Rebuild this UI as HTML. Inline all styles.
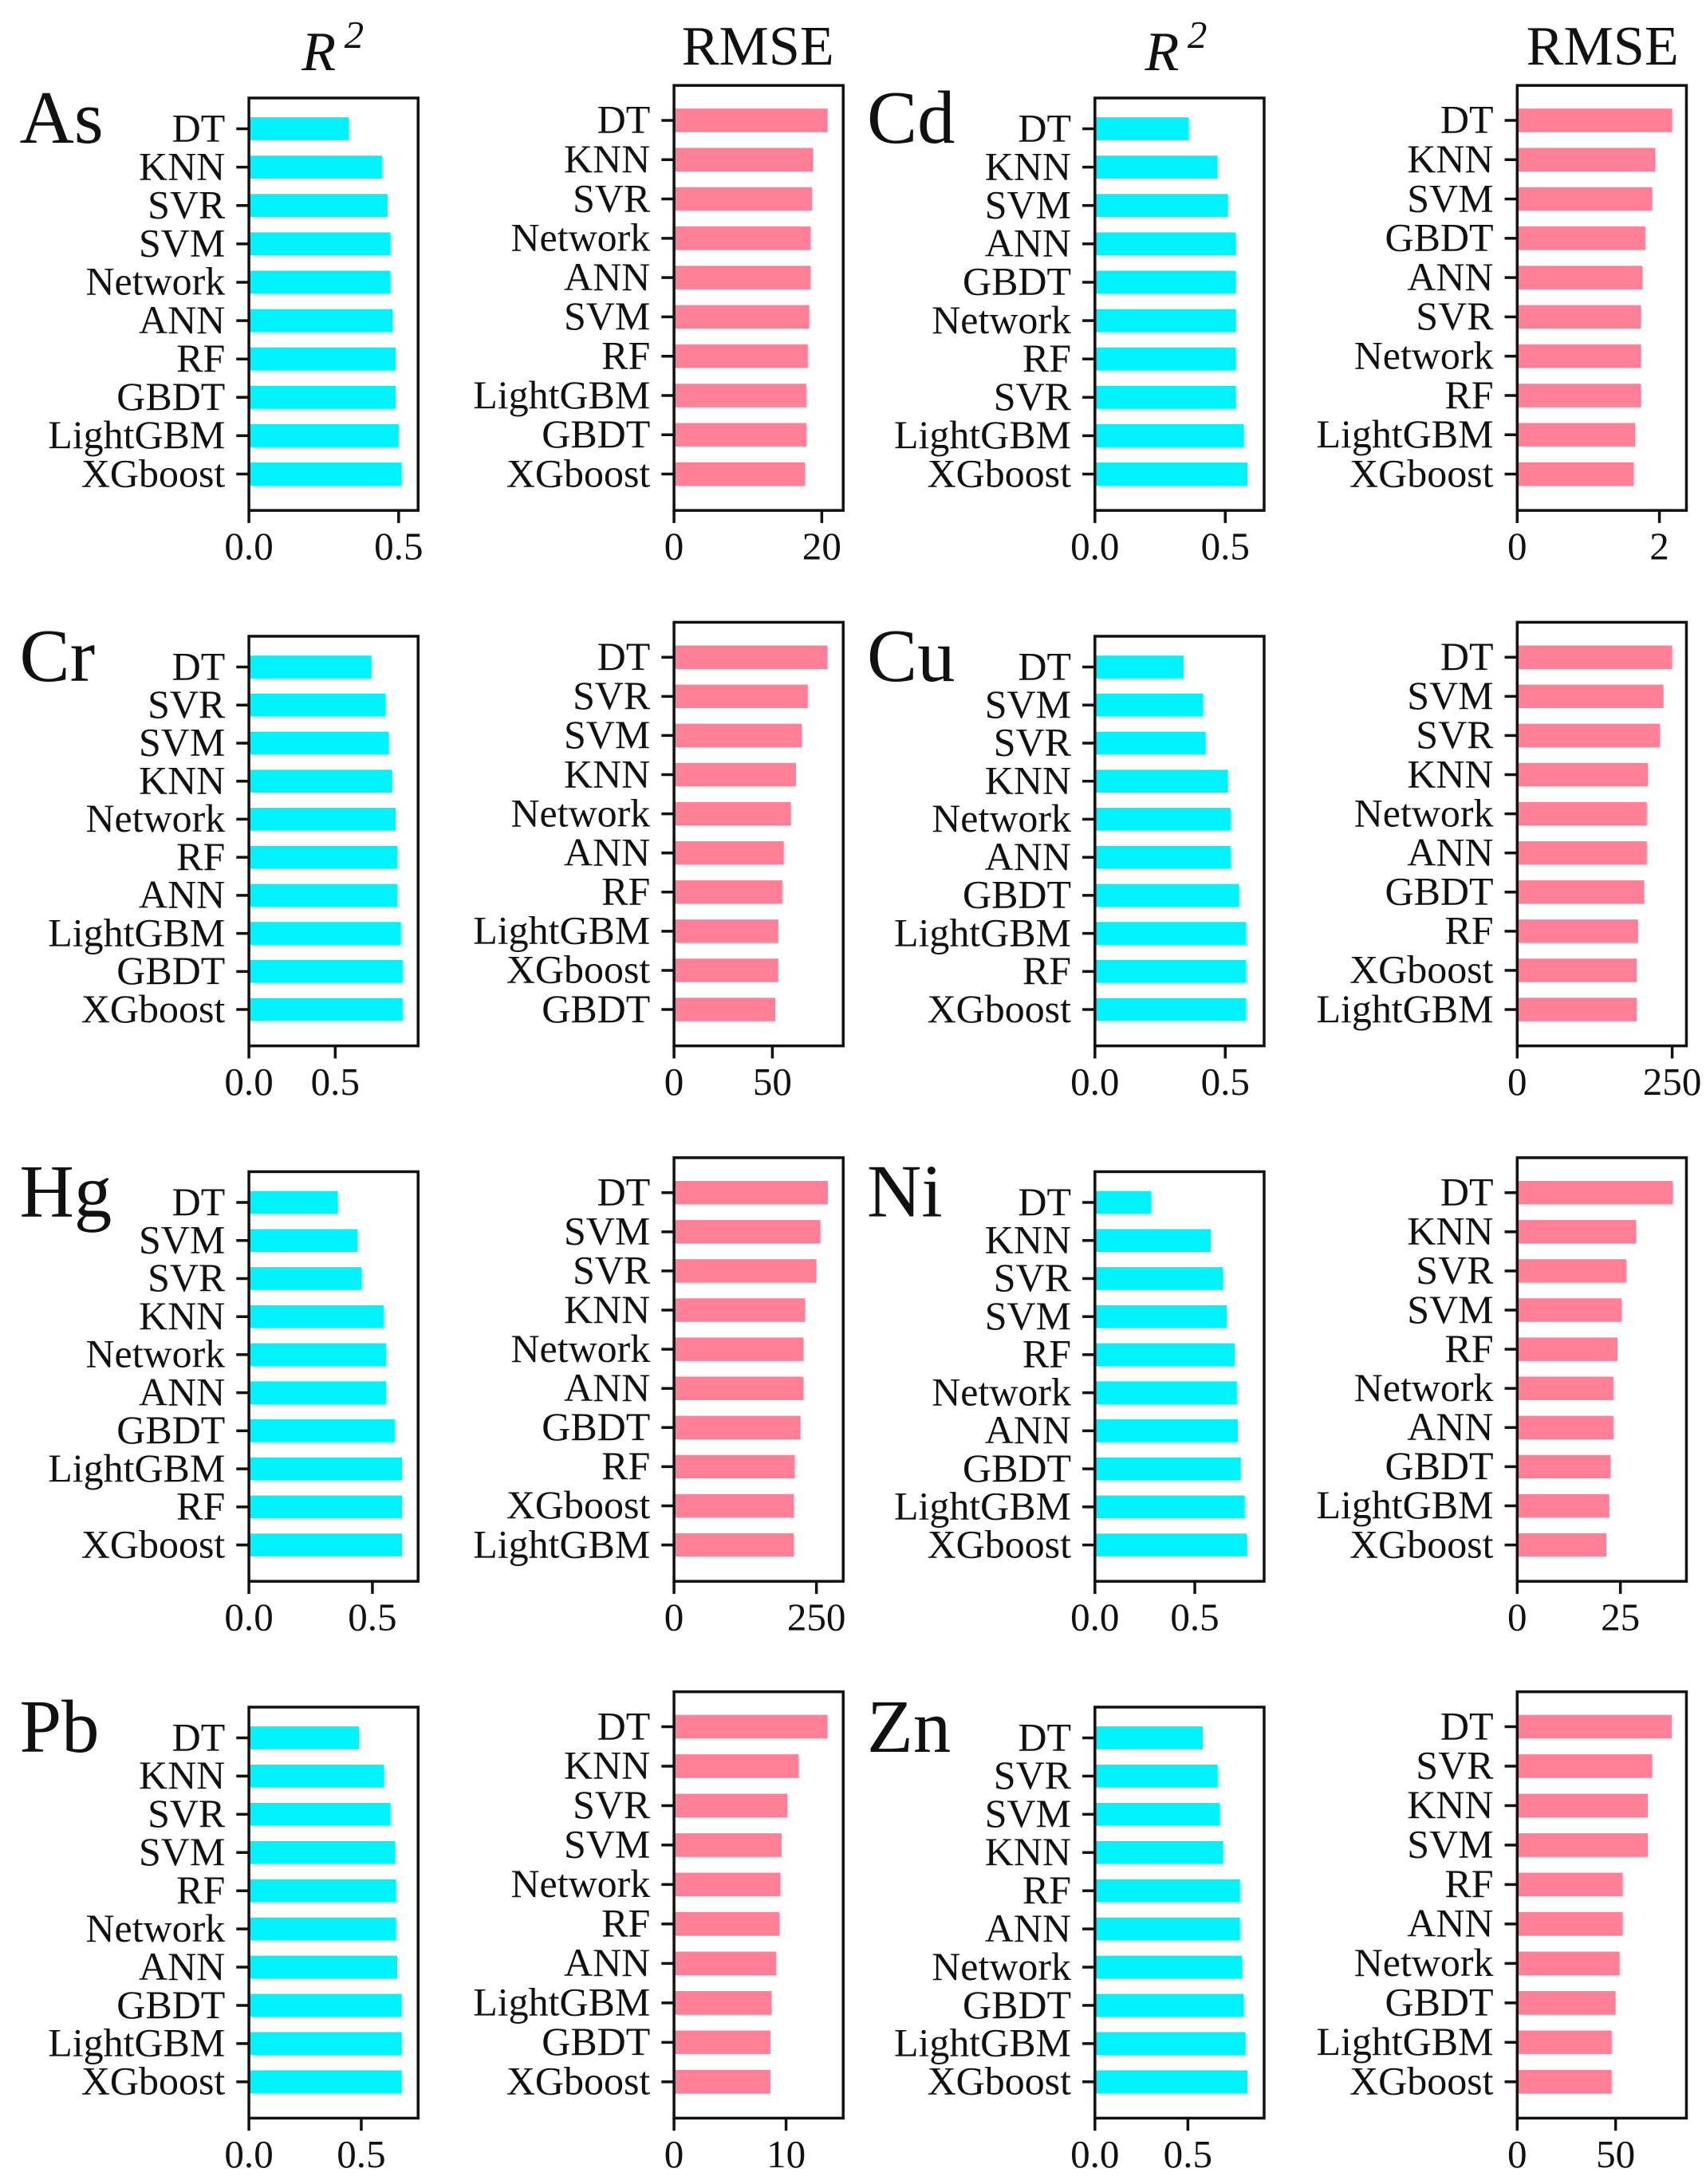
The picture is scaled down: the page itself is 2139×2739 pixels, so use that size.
<!DOCTYPE html>
<html><head><meta charset="utf-8"><style>
html,body{margin:0;padding:0;background:#fff}
svg{display:block}
text{font-family:"Liberation Serif",serif;fill:#111}
</style></head><body>
<svg id="chart" width="2139" height="2739" viewBox="0 0 1220 1562" xmlns="http://www.w3.org/2000/svg"></svg>
<script>
// ---- data ----
const elements = ["As","Cd","Cr","Cu","Hg","Ni","Pb","Zn"];
const r2Cats = {
 As:["DT","KNN","SVR","SVM","Network","ANN","RF","GBDT","LightGBM","XGboost"],
 Cd:["DT","KNN","SVM","ANN","GBDT","Network","RF","SVR","LightGBM","XGboost"],
 Cr:["DT","SVR","SVM","KNN","Network","RF","ANN","LightGBM","GBDT","XGboost"],
 Cu:["DT","SVM","SVR","KNN","Network","ANN","GBDT","LightGBM","RF","XGboost"],
 Hg:["DT","SVM","SVR","KNN","Network","ANN","GBDT","LightGBM","RF","XGboost"],
 Ni:["DT","KNN","SVR","SVM","RF","Network","ANN","GBDT","LightGBM","XGboost"],
 Pb:["DT","KNN","SVR","SVM","RF","Network","ANN","GBDT","LightGBM","XGboost"],
 Zn:["DT","SVR","SVM","KNN","RF","ANN","Network","GBDT","LightGBM","XGboost"]
};
const r2Vals = {
 As:[0.333,0.444,0.463,0.472,0.472,0.48,0.49,0.49,0.50,0.51],
 Cd:[0.36,0.47,0.51,0.54,0.54,0.54,0.54,0.54,0.57,0.585],
 Cr:[0.71,0.79,0.81,0.83,0.85,0.86,0.86,0.88,0.89,0.89],
 Cu:[0.34,0.415,0.425,0.51,0.52,0.52,0.553,0.58,0.58,0.58],
 Hg:[0.36,0.44,0.455,0.545,0.556,0.556,0.59,0.62,0.62,0.62],
 Ni:[0.28,0.58,0.64,0.66,0.70,0.71,0.715,0.73,0.75,0.76],
 Pb:[0.49,0.60,0.63,0.65,0.655,0.655,0.66,0.68,0.68,0.68],
 Zn:[0.58,0.66,0.67,0.69,0.78,0.78,0.79,0.80,0.81,0.82]
};
const r2Max = {As:0.565,Cd:0.649,Cr:0.98,Cu:0.649,Hg:0.685,Ni:0.847,Pb:0.753,Zn:0.91};
const r2Ticks = {As:[0,0.5],Cd:[0,0.5],Cr:[0,0.5],Cu:[0,0.5],Hg:[0,0.5],Ni:[0,0.5],Pb:[0,0.5],Zn:[0,0.5]};
const rmseCats = {
 As:["DT","KNN","SVR","Network","ANN","SVM","RF","LightGBM","GBDT","XGboost"],
 Cd:["DT","KNN","SVM","GBDT","ANN","SVR","Network","RF","LightGBM","XGboost"],
 Cr:["DT","SVR","SVM","KNN","Network","ANN","RF","LightGBM","XGboost","GBDT"],
 Cu:["DT","SVM","SVR","KNN","Network","ANN","GBDT","RF","XGboost","LightGBM"],
 Hg:["DT","SVM","SVR","KNN","Network","ANN","GBDT","RF","XGboost","LightGBM"],
 Ni:["DT","KNN","SVR","SVM","RF","Network","ANN","GBDT","LightGBM","XGboost"],
 Pb:["DT","KNN","SVR","SVM","Network","RF","ANN","LightGBM","GBDT","XGboost"],
 Zn:["DT","SVR","KNN","SVM","RF","ANN","Network","GBDT","LightGBM","XGboost"]
};
const rmseVals = {
 As:[20.8,18.8,18.7,18.5,18.5,18.3,18.1,17.9,17.9,17.7],
 Cd:[2.18,1.94,1.9,1.8,1.76,1.74,1.74,1.74,1.66,1.64],
 Cr:[78,68,65,62,59.4,55.8,55,53,53,51.5],
 Cu:[250,236,230,211,209,209,205,195,193,193],
 Hg:[270,257,250,230,227,227,222,212,210,210],
 Ni:[37.7,28.8,26.4,25.3,24.3,23.3,23.3,22.6,22.3,21.6],
 Pb:[13.7,11.1,10.1,9.6,9.5,9.4,9.1,8.7,8.6,8.6],
 Zn:[78.6,68.6,66.4,66.4,53.6,53.6,52,50,48,48]
};
const rmseMax = {As:22.9,Cd:2.38,Cr:86,Cu:273,Hg:297,Ni:41,Pb:15.1,Zn:86};
const rmseTicks = {As:[0,20],Cd:[0,2],Cr:[0,50],Cu:[0,250],Hg:[0,250],Ni:[0,25],Pb:[0,10],Zn:[0,50]};

// ---- layout ----
const svg = document.getElementById('chart');
const NS = 'http://www.w3.org/2000/svg';
function mk(tag, attrs, parent){ const e=document.createElementNS(NS,tag); for(const k in attrs) e.setAttribute(k,attrs[k]); (parent||svg).appendChild(e); return e; }
const colX = [{r2:178,rm:482},{r2:783,rm:1085}];
const boxW = 121;
const r2Top=[70,455,838,1221], rmTop=[61,445,828,1210], bottoms=[365,748,1131,1515];

function fmt(v, isR2){ return isR2 ? v.toFixed(1) : String(v); }

function panel(el, kind, x0, top, bottom){
  const isR2 = kind==='r2';
  const cats = isR2 ? r2Cats[el] : rmseCats[el];
  const vals = isR2 ? r2Vals[el] : rmseVals[el];
  const xmax = isR2 ? r2Max[el] : rmseMax[el];
  const ticks = isR2 ? r2Ticks[el] : rmseTicks[el];
  const g = mk('g',{});
  
  
  const xs = v => x0 + v/xmax*boxW;
  const firstC = top + (isR2?22:25), lastC = bottom - 26;
  const step = (lastC-firstC)/(cats.length-1);
  const ys = i => firstC + i*step;
  const bh = step*0.6;
  cats.forEach((c,i)=>{
    const b = mk('rect',{x:x0, y:ys(i)-bh/2, width:xs(vals[i])-x0, height:bh, fill: isR2?'#00F3FB':'#FF7F96'}, g);
    
    
    mk('line',{x1:x0-9,x2:x0,y1:ys(i),y2:ys(i),stroke:'#111','stroke-width':2},g);
    const t = mk('text',{x:x0-17,y:ys(i)+9,'font-size':28.5,'text-anchor':'end'},g);
    t.textContent=c;
    
    
  });
  const frame = mk('rect',{x:x0,y:top,width:boxW,height:bottom-top,fill:'none',stroke:'#111','stroke-width':2},g);
  
  
  ticks.forEach(tv=>{
    const tx = xs(tv);
    mk('line',{x1:tx,x2:tx,y1:bottom,y2:bottom+9,stroke:'#111','stroke-width':2},g);
    const t = mk('text',{x:tx,y:bottom+35,'font-size':28,'text-anchor':'middle'},g);
    t.textContent = fmt(tv,isR2);
    
    
  });
}

elements.forEach((el,k)=>{
  const row = Math.floor(k/2), col = k%2;
  panel(el,'r2',colX[col].r2,r2Top[row],bottoms[row]);
  panel(el,'rmse',colX[col].rm,rmTop[row],bottoms[row]);
  const lab = mk('text',{x: col===0?14:620, y: r2Top[row]+32, 'font-size':54});
  lab.textContent = el;
  
  
});

[[238,542],[841,1146]].forEach((p,i)=>{
  const h = mk('text',{x:p[0],y:50,'font-size':40,'text-anchor':'middle','font-style':'italic','font-family':'Liberation Sans, sans-serif'});
  h.innerHTML = 'R<tspan dx="6" dy="-16" font-size="28">2</tspan>';
  
  
  const r = mk('text',{x:p[1],y:46,'font-size':40,'text-anchor':'middle'});
  r.textContent='RMSE';
  
  
});
</script>
</body></html>
